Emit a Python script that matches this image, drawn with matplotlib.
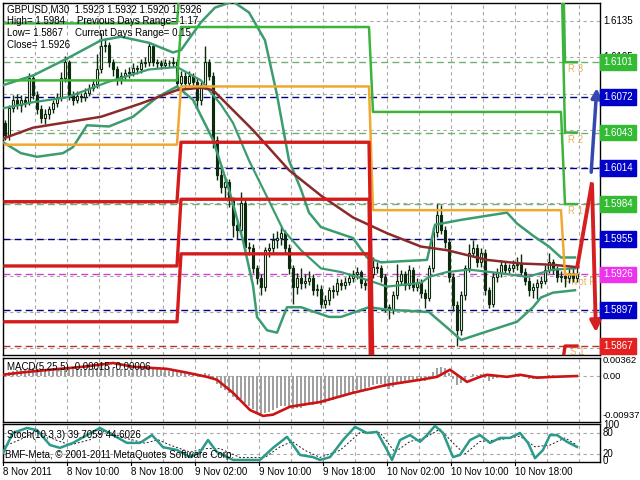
import numpy as np
import matplotlib.pyplot as plt

plt.rcParams['font.family'] = ['Liberation Sans', 'DejaVu Sans']

# GBPUSD M30, bar 0 = 8 Nov 2011 02:00
open0 = 1.6051
close = [
    1.6041, 1.6063, 1.6070, 1.6066, 1.6070, 1.6068, 1.6088, 1.6074, 1.6062, 1.6055,
    1.6058, 1.6062, 1.6067, 1.6072, 1.6088, 1.6101, 1.6074, 1.6070, 1.6073, 1.6072,
    1.6076, 1.6080, 1.6083, 1.6095, 1.6114, 1.6115, 1.6101, 1.6095, 1.6086, 1.6090,
    1.6092, 1.6093, 1.6096, 1.6095, 1.6100, 1.6101, 1.6114, 1.6101, 1.6100, 1.6099,
    1.6100, 1.6100, 1.6101, 1.6084, 1.6090, 1.6084, 1.6090, 1.6085, 1.6070, 1.6082,
    1.6101, 1.6090, 1.6037, 1.6008, 1.5998, 1.6002, 1.5987, 1.5967, 1.5963, 1.5985,
    1.5949, 1.5948, 1.5931, 1.5923, 1.5916, 1.5946, 1.5948, 1.5954, 1.5956, 1.5960,
    1.5948, 1.5931, 1.5916, 1.5923, 1.5919, 1.5921, 1.5923, 1.5913, 1.5914, 1.5902,
    1.5905, 1.5913, 1.5912, 1.5919, 1.5917, 1.5920, 1.5923, 1.5926, 1.5928, 1.5919,
    1.5917, 1.5926, 1.5932, 1.5931, 1.5924, 1.5899, 1.5897, 1.5909, 1.5921, 1.5926,
    1.5917, 1.5930, 1.5916, 1.5919, 1.5911, 1.5907, 1.5931, 1.5961, 1.5975, 1.5963,
    1.5953, 1.5924, 1.5901, 1.5880, 1.5909, 1.5931, 1.5944, 1.5948, 1.5936, 1.5944,
    1.5913, 1.5902, 1.5924, 1.5927, 1.5934, 1.5930, 1.5931, 1.5934, 1.5935, 1.5928,
    1.5921, 1.5913, 1.5916, 1.5919, 1.5921, 1.5930, 1.5936, 1.5930, 1.5924, 1.5925,
    1.5923, 1.5927, 1.5923, 1.5926]
high = [
    1.6053, 1.6066, 1.6074, 1.6075, 1.6074, 1.6073, 1.6092, 1.6091, 1.6077, 1.6066,
    1.6062, 1.6065, 1.6070, 1.6076, 1.6093, 1.6106, 1.6103, 1.6077, 1.6077, 1.6076,
    1.6080, 1.6083, 1.6087, 1.6108, 1.6125, 1.6121, 1.6118, 1.6104, 1.6098, 1.6093,
    1.6095, 1.6097, 1.6100, 1.6099, 1.6104, 1.6105, 1.6118, 1.6116, 1.6104, 1.6103,
    1.6104, 1.6103, 1.6105, 1.6104, 1.6094, 1.6093, 1.6094, 1.6092, 1.6088, 1.6085,
    1.6114, 1.6104, 1.6093, 1.6040, 1.6016, 1.6006, 1.6005, 1.5990, 1.5970, 1.5994,
    1.5988, 1.5953, 1.5951, 1.5934, 1.5926, 1.5949, 1.5952, 1.5960, 1.5962, 1.5965,
    1.5963, 1.5951, 1.5934, 1.5927, 1.5931, 1.5926, 1.5929, 1.5926, 1.5918, 1.5917,
    1.5909, 1.5916, 1.5917, 1.5923, 1.5922, 1.5924, 1.5927, 1.5930, 1.5932, 1.5930,
    1.5922, 1.5929, 1.5940, 1.5936, 1.5934, 1.5926, 1.5902, 1.5912, 1.5935, 1.5930,
    1.5929, 1.5934, 1.5932, 1.5923, 1.5922, 1.5914, 1.5934, 1.5965, 1.5984, 1.5983,
    1.5966, 1.5956, 1.5927, 1.5904, 1.5912, 1.5934, 1.5951, 1.5954, 1.5951, 1.5948,
    1.5947, 1.5916, 1.5928, 1.5931, 1.5938, 1.5937, 1.5935, 1.5938, 1.5940, 1.5943,
    1.5931, 1.5924, 1.5919, 1.5922, 1.5925, 1.5934, 1.5944, 1.5939, 1.5933, 1.5929,
    1.5928, 1.5931, 1.5932, 1.5932]
low = [
    1.6037, 1.6037, 1.6060, 1.6062, 1.6060, 1.6064, 1.6066, 1.6071, 1.6058, 1.6051,
    1.6050, 1.6054, 1.6059, 1.6064, 1.6069, 1.6085, 1.6070, 1.6066, 1.6067, 1.6068,
    1.6069, 1.6073, 1.6077, 1.6080, 1.6092, 1.6109, 1.6097, 1.6090, 1.6082, 1.6083,
    1.6086, 1.6088, 1.6090, 1.6091, 1.6092, 1.6097, 1.6098, 1.6098, 1.6096, 1.6095,
    1.6096, 1.6097, 1.6097, 1.6080, 1.6081, 1.6080, 1.6081, 1.6080, 1.6062, 1.6066,
    1.6079, 1.6086, 1.6030, 1.6004, 1.5993, 1.5989, 1.5982, 1.5957, 1.5955, 1.5960,
    1.5945, 1.5942, 1.5927, 1.5918, 1.5909, 1.5912, 1.5940, 1.5944, 1.5948, 1.5950,
    1.5944, 1.5926, 1.5902, 1.5910, 1.5914, 1.5915, 1.5917, 1.5909, 1.5908, 1.5898,
    1.5898, 1.5901, 1.5907, 1.5909, 1.5913, 1.5914, 1.5917, 1.5920, 1.5922, 1.5915,
    1.5913, 1.5914, 1.5923, 1.5927, 1.5920, 1.5895, 1.5889, 1.5893, 1.5906, 1.5917,
    1.5913, 1.5914, 1.5912, 1.5912, 1.5907, 1.5898, 1.5904, 1.5928, 1.5957, 1.5959,
    1.5948, 1.5920, 1.5896, 1.5867, 1.5876, 1.5905, 1.5928, 1.5940, 1.5932, 1.5932,
    1.5909, 1.5898, 1.5899, 1.5920, 1.5924, 1.5926, 1.5927, 1.5928, 1.5930, 1.5925,
    1.5917, 1.5908, 1.5907, 1.5906, 1.5915, 1.5918, 1.5927, 1.5926, 1.5920, 1.5920,
    1.5916, 1.5919, 1.5920, 1.5920]

# bollinger-style bands and moving average, traced (bar index, price)
upper_i = [-0.5, 7, 15.5, 24, 29, 36, 42, 44, 49, 52.5, 57, 61, 65, 68, 71, 74, 76, 79,
           87, 90.5, 94, 105.5, 107.5, 114, 125.5, 128, 132, 136, 139, 142.5]
upper_v = [1.6082, 1.6090, 1.6104, 1.6119, 1.6122, 1.6117, 1.6109, 1.6111, 1.6134, 1.6146,
           1.6151, 1.6142, 1.6119, 1.6074, 1.6020, 1.5996, 1.5977, 1.5965, 1.5956, 1.5940,
           1.5936, 1.5938, 1.5967, 1.5971, 1.5977, 1.5968, 1.5958, 1.5949, 1.5940, 1.5940]
mid_i = [-0.5, 7, 15.5, 26, 36, 43, 49, 54, 57, 61, 65.5, 69.5, 74, 79, 84, 91, 95.5,
         104, 106, 110.5, 116, 124, 130.5, 137, 142.5]
mid_v = [1.6063, 1.6068, 1.6072, 1.6085, 1.6095, 1.6097, 1.6086, 1.6066, 1.6051, 1.6020,
         1.5990, 1.5963, 1.5946, 1.5931, 1.5928, 1.5921, 1.5916, 1.5919, 1.5924, 1.5928,
         1.5930, 1.5927, 1.5924, 1.5930, 1.5931]
lower_i = [-0.5, 4, 8, 14.5, 17, 20.5, 26, 32, 38, 43, 47, 52, 56, 59.5, 62, 63, 65.5,
           68, 70.5, 74, 81, 84, 91, 95.5, 106, 112, 114, 120.5, 128, 132, 134, 137, 142.5]
lower_v = [1.6035, 1.6026, 1.6023, 1.6026, 1.6031, 1.6049, 1.6048, 1.6056, 1.6072, 1.6081,
           1.6070, 1.6037, 1.5996, 1.5954, 1.5917, 1.5891, 1.5880, 1.5878, 1.5899, 1.5899,
           1.5891, 1.5891, 1.5899, 1.5897, 1.5895, 1.5878, 1.5872, 1.5879, 1.5887, 1.5899,
           1.5907, 1.5911, 1.5913]
ma_i = [-0.5, 7, 24, 34, 43, 49, 52, 62, 71, 79, 87, 95.5, 104, 110.5, 120.5, 129, 137, 143]
ma_v = [1.6038, 1.6047, 1.6056, 1.6067, 1.6078, 1.6080, 1.6078, 1.6045, 1.6012, 1.5991,
        1.5973, 1.5960, 1.5949, 1.5946, 1.5938, 1.5935, 1.5934, 1.5932]

# daily pivot levels (8, 9, 10, 11 Nov)
day_start = [0, 44, 92, 140]
r3 = [1.6186, 1.6225, 1.6276, 1.6101]
r2 = [1.6133, 1.6176, 1.6195, 1.6043]
r1 = [1.6086, 1.6130, 1.6060, 1.5984]
pp = [1.6033, 1.6081, 1.5979, 1.5926]
s1 = [1.5986, 1.6035, 1.5844, 1.5867]
s2 = [1.5933, 1.5988, 1.5763, 1.5809]
s3 = [1.5887, 1.5943, 1.5682, 1.5750]

level_prices = [1.6101, 1.6072, 1.6043, 1.6014, 1.5984, 1.5955, 1.5926, 1.5897, 1.5867]
level_kind = ['g', 'b', 'g', 'b', 'g', 'b', 'm', 'b', 'r']
grid_prices = [1.6135, 1.6105, 1.6075, 1.6045, 1.6015, 1.5985, 1.5955, 1.5925, 1.5895, 1.5865]
shown_scale = [1.6135, 1.6105, 1.6075]   # the rest sit under the level boxes

# forecast arrows
blue_i, blue_p = [146.5, 148.0], [1.6008, 1.6082]
red_i, red_p = [143.0, 146.75, 147.75], [1.5931, 1.6002, 1.5876]

macd_hist = [
    0.0006, 0.0010, 0.0013, 0.0015, 0.0016, 0.0016, 0.0019, 0.0018, 0.0016, 0.0014,
    0.0013, 0.0013, 0.0014, 0.0015, 0.0018, 0.0021, 0.0019, 0.0017, 0.0016, 0.0016,
    0.0016, 0.0017, 0.0018, 0.0020, 0.0023, 0.0024, 0.0022, 0.0020, 0.0017, 0.0016,
    0.0016, 0.0015, 0.0015, 0.0015, 0.0016, 0.0016, 0.0019, 0.0017, 0.0016, 0.0015,
    0.0014, 0.0013, 0.0013, 0.0009, 0.0009, 0.0007, 0.0008, 0.0006, 0.0002, 0.0003,
    0.0007, 0.0004, -0.0008, -0.0020, -0.0029, -0.0034, -0.0040, -0.0050, -0.0057, -0.0055,
    -0.0065, -0.0071, -0.0079, -0.0086, -0.0092, -0.0088, -0.0085, -0.0080, -0.0076, -0.0071,
    -0.0071, -0.0074, -0.0078, -0.0076, -0.0075, -0.0072, -0.0069, -0.0069, -0.0067, -0.0068,
    -0.0065, -0.0060, -0.0057, -0.0052, -0.0049, -0.0045, -0.0041, -0.0037, -0.0033, -0.0033,
    -0.0032, -0.0027, -0.0022, -0.0019, -0.0019, -0.0027, -0.0030, -0.0027, -0.0020, -0.0015,
    -0.0015, -0.0010, -0.0012, -0.0010, -0.0012, -0.0013, -0.0004, 0.0010, 0.0020, 0.0022,
    0.0018, 0.0006, -0.0008, -0.0022, -0.0017, -0.0007, 0.0000, 0.0004, 0.0002, 0.0004,
    -0.0005, -0.0011, -0.0007, -0.0004, 0.0000, 0.0000, 0.0001, 0.0002, 0.0003, 0.0001,
    -0.0002, -0.0006, -0.0006, -0.0005, -0.0004, 0.0000, 0.0003, 0.0002, -0.0001, -0.0001,
    -0.0002, -0.0001, -0.0002, -0.00015]
macd_sig_i = [-0.5, 3.75, 11.25, 19.5, 27, 32, 40.5, 45.5, 50.5, 53, 57, 61.25, 64.5, 67,
              71.25, 78.75, 87, 95.5, 103.75, 108, 111.25, 115.5, 118.75, 120.5, 125.5,
              128.75, 133, 137, 143]
macd_sig_v = [0.0003, 0.0008, 0.0015, 0.0022, 0.0031, 0.0022, 0.0017, 0.0008, -0.0002,
              -0.0009, -0.0040, -0.0081, -0.0095, -0.0092, -0.0073, -0.0062, -0.0040,
              -0.0021, -0.0009, -0.0002, 0.0015, -0.0014, -0.0002, 0.0003, -0.0002, 0.0003,
              -0.0004, -0.0002, 0.0000]

stoch_i = [-0.5, 2, 5.5, 8, 11.25, 13.75, 17, 20.5, 23.75, 27, 30.5, 33.75, 36.75, 39.5, 43,
           46.25, 48.75, 50.75, 53, 57, 63.75, 67, 70.5, 72, 73.75, 77, 78.75, 81.25, 84.5,
           87.5, 90.5, 93, 95.5, 96.75, 98.75, 101.25, 103.75, 105.5, 107.5, 109.5, 112,
           113.75, 116.25, 118.75, 121.25, 123.75, 126.25, 128.75, 130.75, 132.5, 134.5,
           136.25, 138, 140.5, 143]
stoch_v = [23, 79, 93, 87, 45, 37, 51, 73, 93, 73, 51, 51, 73, 39, 31, 11, 25, 59, 25, 3, 3,
           37, 68, 45, 17, 11, 3, 11, 59, 96, 79, 82, 31, 3, 59, 73, 54, 73, 99, 79, 11, 17,
           59, 73, 51, 65, 65, 79, 51, 8, 31, 73, 73, 54, 39.7]
stsig_i = [-0.5, 3.75, 8, 12.5, 16.25, 21.25, 25, 30, 35, 38.25, 41.25, 46.25, 50, 53.75,
           58.75, 65, 68.75, 71.75, 75, 78.75, 83.75, 88.75, 93.75, 97.5, 101.25, 105,
           108.75, 112.5, 115, 118.75, 123.75, 128.75, 132.5, 136.25, 140, 143]
stsig_v = [40, 60, 85, 60, 45, 60, 85, 65, 50, 60, 45, 25, 35, 35, 10, 10, 40, 55, 30, 10,
           30, 80, 80, 25, 55, 65, 90, 45, 20, 55, 60, 70, 40, 45, 65, 44.6]

time_labels = ['8 Nov 2011', '8 Nov 10:00', '8 Nov 18:00', '9 Nov 02:00', '9 Nov 10:00',
               '9 Nov 18:00', '10 Nov 02:00', '10 Nov 10:00', '10 Nov 18:00']

# ---------------------------------------------------------------
W, H = 640, 480
fig = plt.figure(figsize=(6.4, 4.8), dpi=100)
fig.patch.set_facecolor('white')

def px_axes(x0, y0, x1, y1):
    return fig.add_axes([x0 / W, 1 - y1 / H, (x1 - x0) / W, (y1 - y0) / H])

ax = px_axes(3, 3, 600, 355)
axm = px_axes(3, 358, 600, 422)
axs = px_axes(3, 424, 600, 462)

FS = 7.0
XL = (-0.5, 148.75)
for a in (ax, axm, axs):
    a.set_xlim(*XL)
    a.set_xticks([])
    a.set_yticks([])
    for sp in a.spines.values():
        sp.set_color('black')
        sp.set_linewidth(1.0)
    for k in range(0, 19):
        a.axvline(8 * k - 0.5, color='#a8a8a8', lw=0.8, ls=(0, (3, 3)), zorder=0)

ax.set_ylim(1.58596, 1.61498)
axm.set_ylim(-0.01095, 0.00429)
axs.set_ylim(-2.8, 104.2)

idx = np.arange(len(close))
c = np.array(close)
o = np.r_[open0, c[:-1]]
hi = np.maximum(np.array(high), np.maximum(o, c))
lo = np.minimum(np.array(low), np.minimum(o, c))

dark = '#0c2a0c'
yt = ax.get_yaxis_transform()

# grid and level lines
for p in grid_prices:
    ax.axhline(p, color='#a8a8a8', lw=0.8, ls=(0, (3, 3)), zorder=0)
line_col = {'g': '#70b070', 'b': '#000080', 'm': '#d040d0', 'r': '#b83030'}
box_col = {'g': '#33bb33', 'b': '#0000c8', 'm': '#ee33ee', 'r': '#e42020'}
for p, k in zip(level_prices, level_kind):
    ax.axhline(p, color=line_col[k], lw=1.0, ls=(0, (5, 3)), zorder=1)

# candles
ax.vlines(idx, lo, hi, color=dark, lw=1.0, zorder=2)
bull = c >= o
body_lo = np.minimum(o, c)
body_h = np.maximum(np.abs(c - o), 0.00004)
ax.bar(idx[bull], body_h[bull], bottom=body_lo[bull], width=0.72, color='white',
       edgecolor=dark, lw=0.8, zorder=3)
ax.bar(idx[~bull], body_h[~bull], bottom=body_lo[~bull], width=0.72, color=dark,
       edgecolor=dark, lw=0.8, zorder=3)

# pivot text labels (partly behind candles)
lab_col = '#eab060'
ax.text(140.8, 1.6101 - 0.0006, 'R 3', color=lab_col, fontsize=FS, va='center', zorder=1)
ax.text(140.8, 1.6043 - 0.0006, 'R 2', color=lab_col, fontsize=FS, va='center', zorder=1)
ax.text(140.8, 1.5984 - 0.0006, 'R 1', color=lab_col, fontsize=FS, va='center', zorder=1)
ax.text(140.0, 1.5926 - 0.0006, 'Pivot P', color=lab_col, fontsize=FS, va='center', zorder=1)
ax.text(141.2, 1.5867 - 0.0005, 'S 1', color=lab_col, fontsize=FS, va='center', zorder=1)

# indicators
band_col = '#3c9c70'
ax.plot(upper_i, upper_v, color=band_col, lw=1.8, zorder=4)
ax.plot(mid_i, mid_v, color=band_col, lw=1.6, zorder=4)
ax.plot(lower_i, lower_v, color=band_col, lw=1.8, zorder=4)
ax.plot(ma_i, ma_v, color='#8a2a2a', lw=1.8, zorder=4)

day = np.searchsorted(day_start, idx, side='right') - 1
for vals, col, lw in [(r3, '#3cb43c', 1.8), (r2, '#3cb43c', 1.8), (r1, '#3cb43c', 1.8),
                      (pp, '#f0a830', 1.8), (s1, '#d41c1c', 2.4), (s2, '#d41c1c', 2.4),
                      (s3, '#d41c1c', 2.4)]:
    ax.plot(idx, np.array(vals)[day], color=col, lw=lw, zorder=5)

# forecast arrows
ax.annotate('', xy=(blue_i[1], blue_p[1]), xytext=(blue_i[0], blue_p[0]),
            arrowprops=dict(arrowstyle='-|>', color='#3548b0', lw=2.5, mutation_scale=14),
            zorder=6, annotation_clip=False)
ax.plot(red_i[:2], red_p[:2], color='#d42020', lw=2.8, zorder=6, solid_capstyle='butt')
ax.annotate('', xy=(red_i[2], red_p[2]), xytext=(red_i[1], red_p[1]),
            arrowprops=dict(arrowstyle='-|>', color='#d42020', lw=2.8, mutation_scale=16),
            zorder=6, annotation_clip=False)

# right price scale
for p in shown_scale:
    ax.text(1.005, p, f'{p:.4f}', transform=yt, fontsize=FS, va='center', ha='left', zorder=7)
for p, k in zip(level_prices, level_kind):
    ax.text(1.005, p, f'{p:.4f}', transform=yt, fontsize=FS, va='center', ha='left',
            color='white', zorder=8,
            bbox=dict(boxstyle='square,pad=0.3', fc=box_col[k], ec=box_col[k]))

# MACD panel
axm.axhline(0, color='#a8a8a8', lw=0.8, ls=(0, (3, 3)), zorder=0)
axm.bar(idx, macd_hist, width=0.3, color='#a0a0a0', zorder=2)
axm.plot(macd_sig_i, macd_sig_v, color='#cc1414', lw=1.9, zorder=3)
myt = axm.get_yaxis_transform()
for v, s in [(0.00362, '0.00362'), (0.0, '0.00'), (-0.00937, '-0.00937')]:
    axm.text(1.004, v, s, transform=myt, fontsize=6.8, va='center', ha='left')

# Stochastic panel
for v in (80, 20):
    axs.axhline(v, color='#a8a8a8', lw=0.8, ls=(0, (3, 3)), zorder=0)
axs.plot(stsig_i, stsig_v, color='#202020', lw=0.7, ls=(0, (2, 2)), zorder=2)
axs.plot(stoch_i, stoch_v, color='#2a9a8a', lw=1.8, zorder=3)
syt = axs.get_yaxis_transform()
for v, s in [(100, '100'), (80, '80'), (20, '20'), (0, '0')]:
    axs.text(1.005, v, s, transform=syt, fontsize=FS, va='center', ha='left')

# time axis
sxt = axs.get_xaxis_transform()
for k, s in enumerate(time_labels):
    xi = 16 * k - 0.5
    axs.plot([xi, xi], [0, -0.08], transform=sxt, color='black', lw=0.8, clip_on=False)
    axs.text(xi, -0.14, s, transform=sxt, fontsize=FS, va='top', ha='left')

# overlay texts
def ftext(x, y, s, **kw):
    fig.text(x / W, 1 - y / H, s, fontsize=FS, va='center', ha='left', zorder=10, **kw)

ftext(7, 9, 'GBPUSD,M30  1.5923 1.5932 1.5920 1.5926')
ftext(7, 21, 'High= 1.5984')
ftext(77, 21, 'Previous Days Range= 1.17')
ftext(7, 33, 'Low= 1.5867')
ftext(75, 33, 'Current Days Range= 0.15')
ftext(7, 45, 'Close= 1.5926')
ftext(7, 367, 'MACD(5,25,5) -0.00015 -0.00006')
ftext(7, 435, 'Stoch(10,3,3) 39.7059 44.6026')
ftext(5, 455, 'BMF-Meta, \u00a9 2001-2011 MetaQuotes Software Corp.')

fig.savefig('out.png', dpi=100)
